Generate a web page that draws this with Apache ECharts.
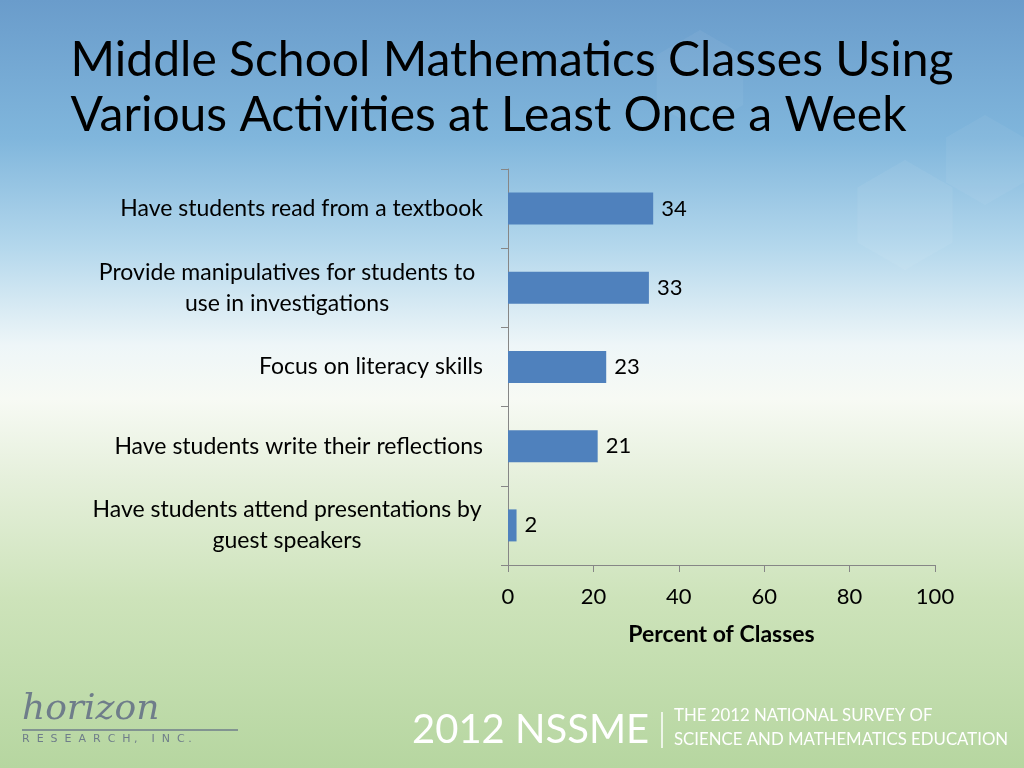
<!DOCTYPE html>
<html>
<head>
<meta charset="utf-8">
<script src="https://cdn.jsdelivr.net/npm/echarts@6/dist/echarts.min.js"></script>
<style>
html,body{margin:0;padding:0;width:1024px;height:768px;overflow:hidden;}
#chart{width:1024px;height:768px;}
</style>
</head>
<body>
<div id="chart"></div>
<script>
// Data
var categories = [
  "Have students read from a textbook",
  "Provide manipulatives for students to\nuse in investigations",
  "Focus on literacy skills",
  "Have students write their reflections",
  "Have students attend presentations by\nguest speakers"
];
var values = [34, 33, 23, 21, 2];
var xTicks = [0, 20, 40, 60, 80, 100];
var titleLines = ["Middle School Mathematics Classes Using", "Various Activities at Least Once a Week"];
var axisName = "Percent of Classes";

var FONT = "Lato, 'Open Sans', sans-serif";
var chart = echarts.init(document.getElementById('chart'));

function hexPoints(cx, cy, r) {
  var pts = [];
  for (var i = 0; i < 6; i++) {
    var a = Math.PI / 3 * i + Math.PI / 6;
    pts.push([cx + r * Math.cos(a), cy + r * Math.sin(a)]);
  }
  return pts;
}

var option = {
  animation: false,
  graphic: [
    {
      type: 'rect', z: -10, silent: true,
      shape: {x: 0, y: 0, width: 1024, height: 768},
      style: {
        fill: new echarts.graphic.LinearGradient(0, 0, 0, 1, [
          {offset: 0, color: '#6a9ccb'},
          {offset: 0.18, color: '#80b6dc'},
          {offset: 0.32, color: '#b3d7ec'},
          {offset: 0.45, color: '#eef6f8'},
          {offset: 0.52, color: '#f7faf4'},
          {offset: 0.62, color: '#e6f0dc'},
          {offset: 0.78, color: '#cde3ba'},
          {offset: 1, color: '#b6d6a0'}
        ])
      }
    },
    {type: 'polygon', z: -8, silent: true, shape: {points: hexPoints(905, 215, 55)}, style: {fill: 'rgba(255,255,255,0.06)'}},
    {type: 'polygon', z: -8, silent: true, shape: {points: hexPoints(985, 160, 45)}, style: {fill: 'rgba(255,255,255,0.05)'}},
    {type: 'polygon', z: -8, silent: true, shape: {points: hexPoints(700, 80, 50)}, style: {fill: 'rgba(255,255,255,0.05)'}},
    // title
    {
      type: 'text', left: 'center', top: 33,
      style: {text: titleLines.join('\n'), font: '48px ' + FONT, fill: '#000', align: 'center', lineHeight: 55}
    },
    // footer logo
    {
      type: 'text', left: 22, top: 692,
      style: {text: 'horizon', font: 'italic 36px "DejaVu Serif", serif', fill: '#6f7d8a'}
    },
    {
      type: 'line', silent: true,
      shape: {x1: 22, y1: 730, x2: 238, y2: 730},
      style: {stroke: '#6f7d8a', lineWidth: 1.5}
    },
    {
      type: 'text', left: 22, top: 734,
      style: {text: 'R  E  S  E  A  R  C  H ,    I  N  C .', font: '11px "DejaVu Sans", sans-serif', fill: '#6f7d8a'}
    },
    {
      type: 'text', left: 412, top: 710,
      style: {text: '2012 NSSME', font: '40px ' + FONT, fill: '#ffffff'}
    },
    {
      type: 'line', silent: true,
      shape: {x1: 662, y1: 712, x2: 662, y2: 748},
      style: {stroke: '#ffffff', lineWidth: 1.5}
    },
    {
      type: 'text', left: 674, top: 704,
      style: {text: 'THE 2012 NATIONAL SURVEY OF\nSCIENCE AND MATHEMATICS EDUCATION', font: '16.8px ' + FONT, fill: '#ffffff', lineHeight: 24}
    }
  ],
  grid: {left: 508, right: 89, top: 169, bottom: 203, containLabel: false},
  xAxis: {
    type: 'value', min: 0, max: 100, interval: 20,
    name: axisName, nameLocation: 'middle', nameGap: 58,
    nameTextStyle: {fontFamily: FONT, fontSize: 23, fontWeight: 'bold', color: '#000'},
    axisLine: {show: true, lineStyle: {color: '#868686', width: 1}},
    axisTick: {show: true, length: 7, lineStyle: {color: '#868686'}},
    axisLabel: {
      fontFamily: FONT, fontSize: 22, color: '#000', margin: 21,
      formatter: function (v) { return xTicks.indexOf(v) >= 0 ? String(v) : ''; }
    },
    splitLine: {show: false}
  },
  yAxis: {
    type: 'category', data: categories, inverse: true,
    axisLine: {show: true, lineStyle: {color: '#868686', width: 1}},
    axisTick: {show: true, length: 7, inside: false, alignWithLabel: false, lineStyle: {color: '#868686'}},
    axisLabel: {
      fontFamily: FONT, fontSize: 23, color: '#000', margin: 25, lineHeight: 31,
      formatter: function (v) {
        var parts = v.split('\n');
        if (parts.length === 1) return v;
        return parts.map(function (p) { return '{c|' + p + '}'; }).join('\n');
      },
      rich: {c: {width: 392, align: 'center', fontFamily: FONT, fontSize: 23, color: '#000', lineHeight: 31}}
    }
  },
  series: [{
    type: 'bar', data: values, barWidth: 32,
    itemStyle: {color: '#4f81bd'},
    label: {show: true, position: 'right', distance: 8, fontFamily: FONT, fontSize: 22, color: '#000'}
  }]
};
chart.setOption(option);
</script>
</body>
</html>
